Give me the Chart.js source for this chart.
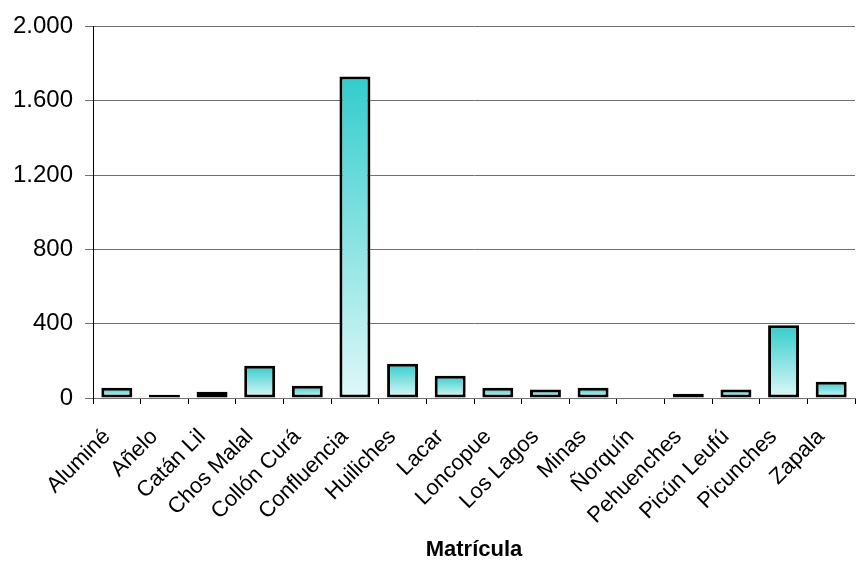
<!DOCTYPE html>
<html>
<head>
<meta charset="utf-8">
<script src="https://cdn.jsdelivr.net/npm/chart.js@4/dist/chart.umd.min.js"></script>
<style>
  html, body { margin: 0; padding: 0; background: #fff; }
  #wrap { width: 856px; height: 561px; }
</style>
</head>
<body>
<div id="wrap"><canvas id="matriculaChart" width="856" height="561"></canvas></div>
<script>
// Departamentos y matrícula
const departamentos = ['Aluminé', 'Añelo', 'Catán Lil', 'Chos Malal', 'Collón Curá', 'Confluencia',
  'Huiliches', 'Lacar', 'Loncopue', 'Los Lagos', 'Minas', 'Ñorquín', 'Pehuenches',
  'Picún Leufú', 'Picunches', 'Zapala'];
const matricula = [55, 18, 34, 174, 66, 1731, 184, 120, 55, 46, 55, 0, 23, 46, 391, 88];
const yTicks = [0, 400, 800, 1200, 1600, 2000];

// gradient per bar: teal at top, pale at the base
function barGradient(context) {
  const chart = context.chart;
  const y = chart.scales.y;
  if (!y || context.raw === undefined) return '#33cccc';
  const top = y.getPixelForValue(context.raw);
  const base = y.getPixelForValue(0);
  if (!isFinite(top) || !isFinite(base) || base - top < 1) return '#33cccc';
  const g = chart.ctx.createLinearGradient(0, top, 0, base);
  g.addColorStop(0, '#33cccc');
  g.addColorStop(1, '#e0f8f8');
  return g;
}

const ctx = document.getElementById('matriculaChart').getContext('2d');

new Chart(ctx, {
  type: 'bar',
  data: {
    labels: departamentos,
    datasets: [{
      label: 'Matrícula',
      data: matricula,
      backgroundColor: barGradient,
      borderColor: '#000',
      borderWidth: 3,
      borderSkipped: false,
      barPercentage: 0.65,
      categoryPercentage: 1,
    }],
  },
  options: {
    responsive: false,
    animation: false,
    layout: { padding: { top: 26, right: 1, left: 0, bottom: 0 } },
    plugins: { legend: { display: false }, tooltip: { enabled: false } },
    scales: {
      x: {
        grid: { offset: true, drawOnChartArea: false, tickLength: 6, color: '#000' },
        border: { color: '#707070', width: 1 },
        ticks: {
          maxRotation: 45, minRotation: 45, padding: 20, labelOffset: -10, color: '#000',
          font: { family: 'Liberation Sans, Arial, sans-serif', size: 22 },
        },
        title: {
          display: true, text: 'Matrícula', color: '#000',
          font: { family: 'Liberation Sans, Arial, sans-serif', size: 22, weight: 'bold', lineHeight: 1 },
          padding: { top: 0, bottom: 0 },
        },
        afterFit: (scale) => {
          scale.height = 163;
          scale.paddingLeft = 0;
          scale.paddingRight = 0;
        },
      },
      y: {
        min: 0, max: 2000,
        afterBuildTicks: (scale) => { scale.ticks = yTicks.map(v => ({ value: v })); },
        grid: { color: '#707070', tickLength: 8, lineWidth: 1 },
        border: { color: '#000', width: 1 },
        ticks: {
          padding: 12, color: '#000',
          font: { family: 'Liberation Sans, Arial, sans-serif', size: 24 },
          callback: (v) => String(v).replace(/\B(?=(\d{3})+(?!\d))/g, '.'),
        },
        afterFit: (scale) => { scale.width = 93; },
      },
    },
  },
});
</script>
</body>
</html>
